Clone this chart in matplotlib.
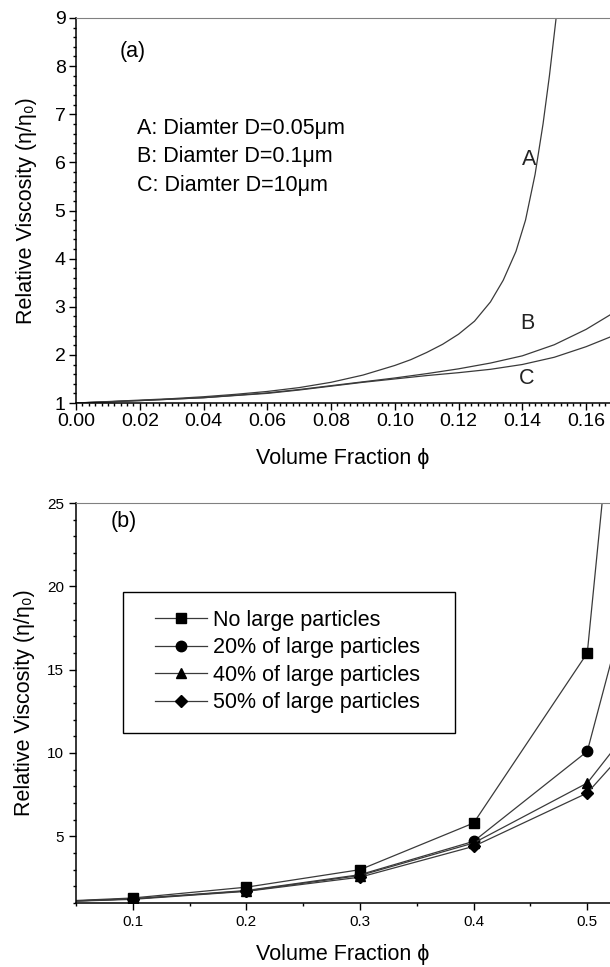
import matplotlib
matplotlib.use("Agg")
import matplotlib.pyplot as plt
from matplotlib.patches import Rectangle
from matplotlib.ticker import MultipleLocator, FormatStrFormatter

plt.rcParams['font.family'] = ['Liberation Sans', 'DejaVu Sans']

# --- panel (a): relative viscosity vs volume fraction, three diameters ---
phi_A  = [0.0, 0.01, 0.02, 0.03, 0.04, 0.05, 0.06, 0.07, 0.08, 0.09, 0.10, 0.105, 0.11, 0.115,
          0.12, 0.125, 0.13, 0.134, 0.138, 0.141, 0.144, 0.1465, 0.1485, 0.1506, 0.152]
visc_A = [1.0, 1.03, 1.06, 1.09, 1.13, 1.18, 1.24, 1.32, 1.43, 1.58, 1.78, 1.90, 2.05, 2.22,
          2.43, 2.70, 3.10, 3.55, 4.15, 4.80, 5.75, 6.8, 7.8, 9.0, 10.0]

phi_BC = [0.0, 0.02, 0.04, 0.06, 0.07, 0.08, 0.09, 0.10, 0.11, 0.12, 0.13, 0.14, 0.15, 0.16, 0.1675, 0.175]
visc_B = [1.0, 1.05, 1.11, 1.21, 1.28, 1.36, 1.44, 1.52, 1.61, 1.71, 1.83, 1.98, 2.21, 2.53, 2.83, 3.2]
visc_C = [1.0, 1.05, 1.11, 1.20, 1.27, 1.35, 1.43, 1.50, 1.57, 1.63, 1.70, 1.80, 1.95, 2.17, 2.37, 2.6]

diam_labels = ["A: Diamter D=0.05\u03bcm", "B: Diamter D=0.1\u03bcm", "C: Diamter D=10\u03bcm"]

# --- panel (b): effect of large-particle fraction ---
phi_b = [0.0, 0.1, 0.2, 0.3, 0.4, 0.5, 0.6]
visc_none = [1.0, 1.30, 1.95, 3.0, 5.8, 16.0, 85.0]
visc_20   = [1.0, 1.25, 1.75, 2.7, 4.7, 10.1, 35.8]
visc_40   = [1.0, 1.25, 1.72, 2.65, 4.6, 8.2, 16.9]
visc_50   = [1.0, 1.22, 1.70, 2.55, 4.4, 7.6, 15.2]
series_labels = ["No large particles", "20% of large particles",
                 "40% of large particles", "50% of large particles"]

W, H = 610, 967
def px_box(l, t, r, b):
    return [l / W, 1 - b / H, (r - l) / W, (b - t) / H]

LINE = "#3a3a3a"
FS = 15.5
ylab = "Relative Viscosity (\u03b7/\u03b7\u2080)"
xlab = "Volume Fraction \u03d5"

fig = plt.figure(figsize=(W / 100, H / 100), dpi=100)

# ---------------- panel (a) ----------------
ax1 = fig.add_axes(px_box(76, 18, 610, 403))
ax1.plot(phi_A, visc_A, color=LINE, lw=0.9)
ax1.plot(phi_BC, visc_B, color=LINE, lw=0.9)
ax1.plot(phi_BC, visc_C, color=LINE, lw=0.9)
ax1.set_xlim(0, 0.1675)
ax1.set_ylim(1, 9)
ax1.xaxis.set_major_locator(MultipleLocator(0.02))
ax1.xaxis.set_minor_locator(MultipleLocator(0.002))
ax1.xaxis.set_major_formatter(FormatStrFormatter('%.2f'))
ax1.yaxis.set_major_locator(MultipleLocator(1))
ax1.yaxis.set_minor_locator(MultipleLocator(0.2))
ax1.tick_params(which='both', direction='out', top=False, right=False, labelsize=14, width=1, pad=2.5)
ax1.tick_params(which='major', length=5)
ax1.tick_params(which='minor', length=2.5)
ax1.spines['right'].set_visible(False)
ax1.spines['top'].set_color('#808080')
for s in ('left', 'bottom'):
    ax1.spines[s].set_linewidth(1.1)
ax1.set_xlabel(xlab, fontsize=FS, labelpad=13)
ax1.set_ylabel(ylab, fontsize=FS, labelpad=13)

ax1.text(0.082, 0.912, "(a)", transform=ax1.transAxes, fontsize=FS, va='center')
for i, lab in enumerate(diam_labels):
    ax1.text(0.115, 0.713 - i * 0.074, lab, transform=ax1.transAxes, fontsize=FS, va='center')
ax1.text(0.1445, 6.05, "A", fontsize=FS, ha='right', va='center', color='#222222')
ax1.text(0.1415, 2.66, "B", fontsize=FS, ha='center', va='center', color='#222222')
ax1.text(0.1415, 1.5, "C", fontsize=FS, ha='center', va='center', color='#222222')

# ---------------- panel (b) ----------------
ax2 = fig.add_axes(px_box(76, 503, 610, 903))
markers = ['s', 'o', '^', 'D']
sizes = [6.5, 7.5, 7.5, 6]
for ys, m, ms, lab in zip([visc_none, visc_20, visc_40, visc_50], markers, sizes, series_labels):
    ax2.plot(phi_b, ys, color=LINE, lw=0.9, marker=m, ms=ms,
             markerfacecolor='black', markeredgecolor='black', label=lab)
ax2.set_xlim(0.05, 0.52)
ax2.set_ylim(1, 25)
ax2.xaxis.set_major_locator(MultipleLocator(0.1))
ax2.xaxis.set_minor_locator(MultipleLocator(0.05))
ax2.xaxis.set_major_formatter(FormatStrFormatter('%.1f'))
ax2.set_yticks([5, 10, 15, 20, 25])
ax2.yaxis.set_minor_locator(MultipleLocator(1))
ax2.tick_params(which='both', direction='out', top=False, right=False, labelsize=11, width=1)
ax2.tick_params(which='major', length=5)
ax2.tick_params(which='minor', length=2.5)
ax2.spines['right'].set_visible(False)
ax2.spines['top'].set_color('#808080')
for s in ('left', 'bottom'):
    ax2.spines[s].set_linewidth(1.1)
ax2.set_xlabel(xlab, fontsize=FS, labelpad=11)
ax2.set_ylabel(ylab, fontsize=FS, labelpad=8.5)
ax2.text(0.064, 0.955, "(b)", transform=ax2.transAxes, fontsize=FS, va='center')

# legend box drawn separately so the padding can match the original
ax2.add_patch(Rectangle((0.088, 0.425), 0.6217, 0.3525, transform=ax2.transAxes,
                        fill=False, edgecolor='black', lw=1.0, zorder=4))
leg = ax2.legend(loc='upper left', bbox_to_anchor=(0.148, 0.733), fontsize=FS,
                 frameon=False, handlelength=2.4, handletextpad=0.3, borderpad=0,
                 labelspacing=0.3, borderaxespad=0)

fig.savefig("out.png", dpi=100)
